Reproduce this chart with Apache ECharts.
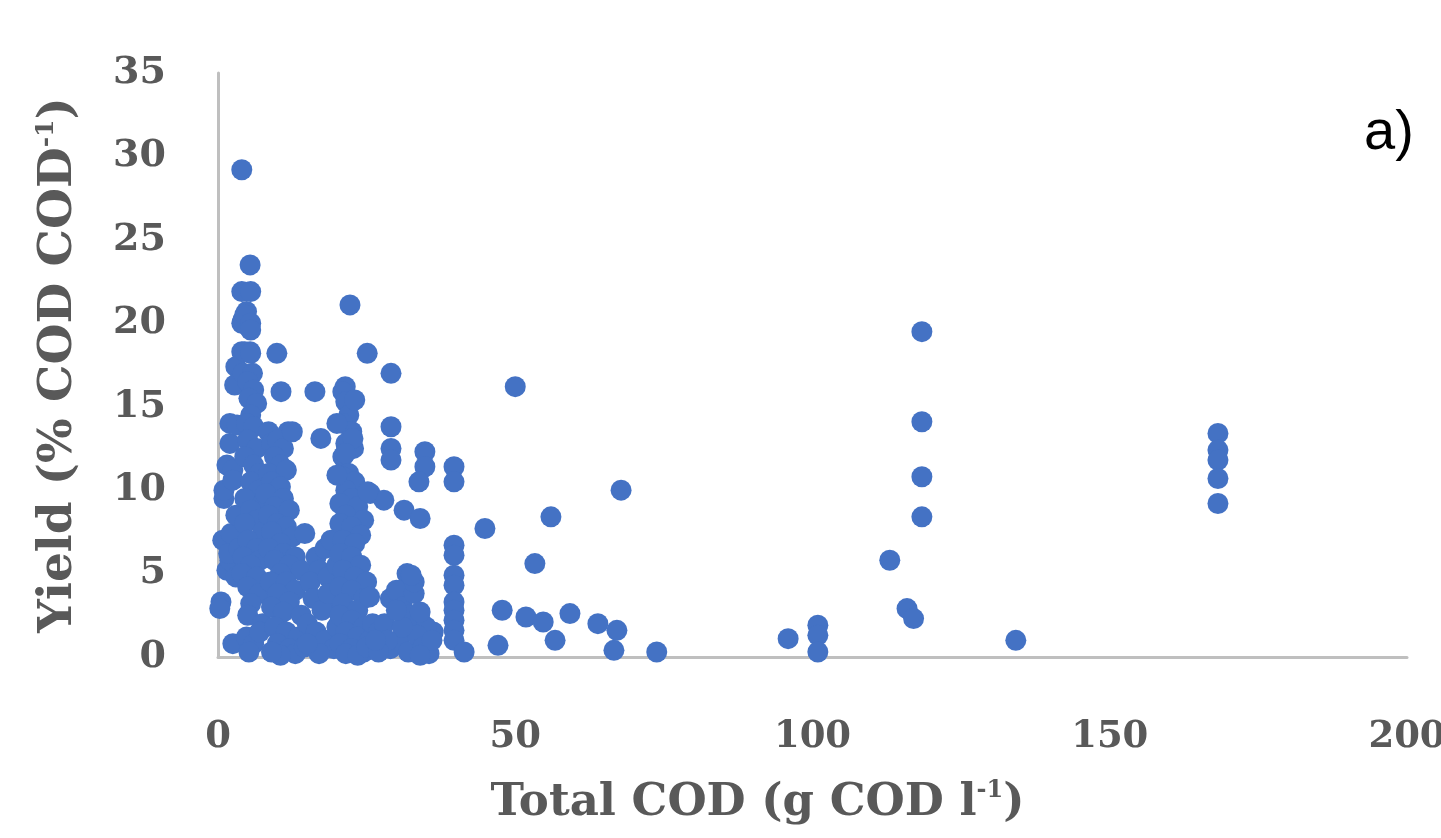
<!DOCTYPE html>
<html>
<head>
<meta charset="utf-8">
<script src="https://cdn.jsdelivr.net/npm/echarts@6/dist/echarts.min.js"></script>
<style>
html,body{margin:0;padding:0;background:#fff;}
#chart{width:1441px;height:838px;}
</style>
</head>
<body>
<div id="chart"></div>
<script>
// Total COD (g COD l-1)
const totalCOD = [
  4.0,5.4,4.0,5.5,22.2,4.2,4.8,5.1,118.4,9.9,25.1,29.1,4.0,5.4,50.0,16.3,10.6,21.4,21.6,118.4,
  29.1,11.8,17.3,168.2,168.2,168.2,168.2,168.2,29.1,29.1,34.8,34.8,118.4,33.8,67.8,39.7,39.7,25.6,27.9,31.3,
  34.0,56.0,118.4,44.9,39.7,39.7,53.3,113.0,31.8,39.7,39.7,30.6,39.7,39.7,39.7,39.7,39.7,47.8,51.8,54.7,
  59.2,63.9,67.1,56.7,47.1,66.6,73.8,41.4,36.2,115.9,117.0,95.9,100.9,100.9,100.9,134.2,
  0.5,0.3,0.8,1.0,1.0,1.5,2.0,2.0,1.5,2.0,1.8,2.5,3.0,3.5,2.8,3.2,2.5,2.2,3.0,3.5,3.0,2.5,
  4.0,4.5,5.5,5.5,4.5,5.5,4.2,5.8,5.0,6.0,5.2,6.5,5.5,4.8,6.0,5.0,6.5,4.5,6.0,7.0,5.5,6.8,4.5,7.5,5.5,6.5,4.5,7.5,5.0,6.5,4.2,7.0,5.5,4.0,6.5,5.0,7.0,5.5,5.0,7.5,4.8,6.0,5.2,7.0,
  8.5,9.0,10.0,11.0,12.5,9.5,10.5,8.5,11.5,9.0,10.5,8.0,11.0,9.5,12.0,8.5,10.0,11.5,9.0,12.5,10.5,8.5,11.0,13.0,9.5,12.0,10.5,14.0,8.8,11.5,13.0,10.0,12.0,9.0,11.0,14.0,9.5,11.5,13.5,10.0,12.0,13.0,10.5,9.0,14.5,
  14.6,16.5,18.0,19.0,17.0,15.5,18.5,16.0,19.5,17.5,15.0,16.5,18.0,19.5,17.0,15.0,20.0,18.5,20.0,
  21.0,21.5,22.0,21.0,22.5,21.5,22.8,21.0,22.0,21.0,23.0,21.5,22.5,20.5,23.5,21.5,24.5,20.5,22.5,24.0,21.0,23.0,20.5,22.5,24.0,21.0,23.0,25.0,20.5,22.5,24.5,21.0,23.5,25.5,20.5,22.5,24.5,21.5,23.5,25.5,20.5,22.5,24.5,21.5,23.5,25.0,26.0,
  23.0,20.0,22.7,21.4,20.0,25.2,
  27.0,28.0,29.0,30.0,31.0,32.0,33.0,34.0,35.0,29.0,30.5,32.0,33.5,34.5,35.5,31.0,30.0,33.0,28.5,36.0,34.0,27.0,26.5,32.5,34.0
];
// Yield (% COD COD-1)
const yieldPct = [
  29.2,23.5,21.9,21.9,21.1,20.2,20.7,19.8,19.5,18.2,18.2,17.0,18.3,18.3,16.2,15.9,15.9,16.2,15.4,14.1,
  13.8,13.5,13.1,13.4,12.4,11.8,10.7,9.2,12.5,11.8,12.3,11.4,10.8,10.5,10.0,11.4,10.5,9.8,9.4,8.8,
  8.3,8.4,8.4,7.7,6.7,6.1,5.6,5.8,5.0,4.9,4.3,4.0,3.3,2.8,2.2,1.6,1.0,2.8,2.4,2.1,
  2.6,2.0,1.6,1.0,0.7,0.4,0.3,0.3,1.5,2.9,2.3,1.1,1.9,1.3,0.3,1.0,
  3.3,2.9,7.0,9.5,10.0,11.5,12.8,14.0,5.2,5.8,6.2,0.8,17.4,16.5,16.3,13.9,11.2,7.4,4.8,6.5,8.5,10.6,
  20.0,20.5,20.0,19.6,18.3,18.2,17.0,17.0,16.5,16.0,15.5,15.2,14.5,14.0,13.8,13.0,12.5,12.0,11.5,11.0,10.5,10.0,9.5,9.2,8.8,8.2,8.0,7.5,7.0,6.5,6.0,5.8,5.5,5.0,4.8,4.2,3.8,3.2,2.5,2.0,1.2,0.8,0.3,1.5,
  13.5,12.8,13.0,12.5,13.5,12.0,11.5,11.0,11.2,10.5,10.2,9.8,9.5,9.0,8.8,8.5,8.0,7.8,7.5,7.2,6.8,6.5,6.2,6.0,5.8,5.5,5.0,5.2,4.5,4.5,4.0,3.8,3.3,3.0,2.7,2.5,1.8,1.5,1.2,0.8,0.5,0.2,0.1,0.3,0.6,
  7.4,6.0,6.5,7.0,5.2,4.5,4.8,3.5,3.0,2.8,2.0,1.5,1.0,0.5,0.2,0.8,1.8,3.8,5.5,
  15.9,15.3,14.5,14.0,13.5,12.8,12.5,12.0,11.0,10.8,10.5,10.0,9.5,9.2,9.0,8.5,8.2,8.0,7.8,7.3,7.0,6.8,6.2,6.0,5.5,5.2,4.8,4.5,4.2,4.0,3.5,3.2,2.8,3.6,2.5,2.2,1.8,1.5,1.2,1.0,0.8,0.5,0.3,0.2,0.1,0.6,2.0,
  15.4,14.0,13.1,12.2,10.9,9.9,
  1.5,2.0,3.5,4.0,3.0,2.5,3.8,2.2,1.8,0.5,1.0,0.3,1.3,0.6,0.2,1.8,2.8,4.5,1.0,1.0,0.1,0.3,1.0,4.9,2.7
];
const xTicks = [0, 50, 100, 150, 200];
const yTicks = [0, 5, 10, 15, 20, 25, 30, 35];

const points = totalCOD.map((x, i) => [x, yieldPct[i]]);
const font = 'DejaVu Serif';
const grey = '#595959';

const chart = echarts.init(document.getElementById('chart'), null, {renderer: 'canvas'});
chart.setOption({
  animation: false,
  backgroundColor: '#ffffff',
  grid: {left: 218, right: 34, top: 73, bottom: 181, containLabel: false, outerBoundsMode: 'none'},
  xAxis: {
    type: 'value', min: xTicks[0], max: xTicks[xTicks.length - 1], interval: 50,
    axisLine: {show: true, lineStyle: {color: '#bfbfbf', width: 3}},
    axisTick: {show: false}, splitLine: {show: false},
    axisLabel: {color: grey, fontFamily: font, fontWeight: 'bold', fontSize: 37, margin: 62},
    name: '{n|Total COD (g COD l}{s|-1}{n|)}',
    nameLocation: 'middle', nameGap: 122,
    nameTextStyle: {
      padding: [0, 110, 0, 0],
      rich: {
        n: {color: grey, fontFamily: font, fontWeight: 'bold', fontSize: 45},
        s: {color: grey, fontFamily: font, fontWeight: 'bold', fontSize: 24, verticalAlign: 'top', padding: [0, 0, 24, 0]}
      }
    }
  },
  yAxis: {
    type: 'value', min: yTicks[0], max: yTicks[yTicks.length - 1], interval: 5,
    axisLine: {show: true, lineStyle: {color: '#bfbfbf', width: 3}},
    axisTick: {show: false}, splitLine: {show: false},
    axisLabel: {color: grey, fontFamily: font, fontWeight: 'bold', fontSize: 38, margin: 52},
    name: '{n|Yield (% COD COD}{s|-1}{n|)}',
    nameLocation: 'middle', nameGap: 134, nameRotate: 90,
    nameTextStyle: {
      rich: {
        n: {color: grey, fontFamily: font, fontWeight: 'bold', fontSize: 47},
        s: {color: grey, fontFamily: font, fontWeight: 'bold', fontSize: 25, verticalAlign: 'top', padding: [0, 0, 25, 0]}
      }
    }
  },
  series: [{
    type: 'scatter',
    data: points,
    symbol: 'circle',
    symbolSize: 21,
    itemStyle: {color: '#4472C4', opacity: 1}
  }],
  graphic: [{
    type: 'text', left: 1364, top: 106,
    style: {text: 'a)', font: '56px "Liberation Sans"', fill: '#000000'}
  }]
});
</script>
</body>
</html>
